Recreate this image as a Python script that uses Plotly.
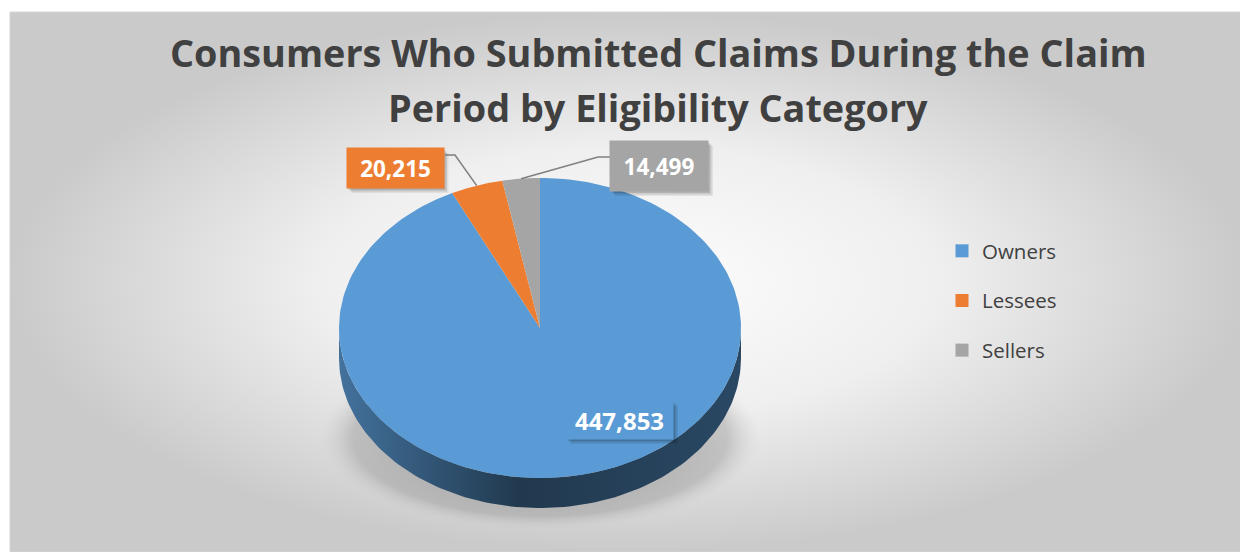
import numpy as np
import plotly.graph_objects as go

# ---------------- data ----------------
categories = ["Owners", "Lessees", "Sellers"]
values = [447853, 20215, 14499]
label_texts = ["447,853", "20,215", "14,499"]
colors = ["#5B9BD5", "#ED7D31", "#A5A5A5"]
title_lines = ["Consumers Who Submitted Claims During the Claim",
               "Period by Eligibility Category"]

# ---------------- layout constants ----------------
W, H = 1248, 552          # page size
OFF = 8                   # browser body margin
CX, CY, RX, RY, DEPTH = 540, 328, 201, 150, 30
TXT = "#404040"
FONT = "Open Sans"

total = sum(values)
bounds = np.concatenate([[0.0], np.cumsum(values)]) / total * 2 * np.pi


def pt(theta, dy=0.0):
    return CX + RX * np.sin(theta), CY - RY * np.cos(theta) + dy


def shade(hexcol, f):
    h = hexcol.lstrip("#")
    r, g, b = (int(h[i:i + 2], 16) for i in (0, 2, 4))
    return "rgb(%d,%d,%d)" % (r * f, g * f, b * f)


fig = go.Figure()

# background panel with radial gradient
fig.add_trace(go.Scatter(
    x=[10, W, W, 10, 10], y=[12, 12, H, H, 12], mode="lines",
    line=dict(color="#d4d4d4", width=1), fill="toself",
    fillgradient=dict(type="radial",
                      colorscale=[[0, "#fdfdfd"], [0.5, "#efefef"], [1, "#cacaca"]]),
    hoverinfo="skip", showlegend=False))

# soft shadow under the pie
fig.add_trace(go.Scatter(
    x=[320, 760, 760, 320, 320], y=[345, 345, 530, 530, 345], mode="lines",
    line=dict(width=0), fill="toself",
    fillgradient=dict(type="radial",
                      colorscale=[[0, "rgba(100,100,100,0.65)"],
                                  [0.85, "rgba(150,150,150,0.45)"],
                                  [1, "rgba(200,200,200,0)"]]),
    hoverinfo="skip", showlegend=False))

# side walls (front half of the ellipse)
for i, c in enumerate(colors):
    a0, a1 = bounds[i], bounds[i + 1]
    s, e = max(a0, np.pi / 2), min(a1, 3 * np.pi / 2)
    if e <= s:
        continue
    th = np.linspace(s, e, 120)
    xt, yt = pt(th)
    xb, yb = pt(th[::-1], DEPTH)
    xs = np.concatenate([xt, xb, xt[:1]])
    ys = np.concatenate([yt, yb, yt[:1]])
    fig.add_trace(go.Scatter(
        x=xs, y=ys, mode="lines", line=dict(width=0), fill="toself",
        fillgradient=dict(type="horizontal",
                          colorscale=[[0, shade(c, 0.74)], [0.45, shade(c, 0.37)],
                                      [1, shade(c, 0.47)]]),
        hoverinfo="skip", showlegend=False))

# top faces
for i, c in enumerate(colors):
    th = np.linspace(bounds[i], bounds[i + 1], 200)
    xa, ya = pt(th)
    xs = np.concatenate([[CX], xa, [CX]])
    ys = np.concatenate([[CY], ya, [CY]])
    fig.add_trace(go.Scatter(
        x=xs, y=ys, mode="lines", line=dict(width=0), fill="toself",
        fillcolor=c, name=categories[i], hoverinfo="skip", showlegend=False))

# legend entries
for i, c in enumerate(colors):
    fig.add_trace(go.Scatter(
        x=[None], y=[None], mode="markers", name=categories[i],
        marker=dict(symbol="square", size=13, color=c),
        legendgroup=categories[i], showlegend=True))

# ---------------- labels ----------------
label_boxes = [  # (center x, center y, width, height, font size)
    (619.5, 420, 107, 38, 24),
    (395, 168, 97, 40, 22.5),
    (659, 166, 98, 50, 22.5),
]
elbows = [None, (455, 155, 445), (598, 157, 610)]  # (elbow x, y, box-edge x)

shapes = []
annotations = []
for i, (bx, by, bw, bh, fs) in enumerate(label_boxes):
    for d, a in ((5, 0.07), (3.5, 0.1), (2, 0.12)):
        shapes.append(dict(type="rect", xref="x", yref="y",
                           x0=bx - bw / 2 + d, x1=bx + bw / 2 + d,
                           y0=by - bh / 2 + d, y1=by + bh / 2 + d,
                           fillcolor="rgba(0,0,0,%.2f)" % a, line=dict(width=0),
                           layer="above"))
    annotations.append(dict(
        x=bx, y=by, xref="x", yref="y", text="<b>%s</b>" % label_texts[i],
        showarrow=False, width=bw, height=bh, bgcolor=colors[i], borderpad=0,
        font=dict(family=FONT, size=fs, color="white"), xanchor="center", yanchor="middle"))
    if elbows[i] is not None:
        mid = (bounds[i] + bounds[i + 1]) / 2
        ex, ey = pt(mid)
        kx, ky, bxe = elbows[i]
        shapes.append(dict(type="path", xref="x", yref="y",
                           path="M%.1f,%.1f L%.1f,%.1f L%.1f,%.1f" % (ex, ey, kx, ky, bxe, ky),
                           line=dict(color="#7f7f7f", width=1.5), layer="above"))

# legend box
shapes.append(dict(type="rect", xref="x", yref="y", x0=926, x1=1096, y0=226, y1=377,
                   fillcolor="rgba(245,245,245,0.6)", line=dict(width=0), layer="below"))

# title
for j, ty in enumerate((52, 107)):
    annotations.append(dict(x=658, y=ty, xref="x", yref="y",
                            text="<b>%s</b>" % title_lines[j], showarrow=False,
                            font=dict(family=FONT, size=37.8, color=TXT),
                            xanchor="center", yanchor="middle"))

fig.update_layout(
    width=W - OFF, height=H - OFF, autosize=False,
    margin=dict(l=0, r=0, t=0, b=0),
    paper_bgcolor="white", plot_bgcolor="rgba(0,0,0,0)",
    xaxis=dict(range=[OFF, W], visible=False, fixedrange=True),
    yaxis=dict(range=[H, OFF], visible=False, fixedrange=True),
    showlegend=True,
    legend=dict(x=(942 - OFF) / (W - OFF), y=1 - (231 - OFF) / (H - OFF),
                xanchor="left", yanchor="top",
                bgcolor="rgba(0,0,0,0)", font=dict(family=FONT, size=20.5, color=TXT),
                tracegroupgap=20, itemsizing="trace"),
    shapes=shapes, annotations=annotations,
)

fig.write_html("out.html")
